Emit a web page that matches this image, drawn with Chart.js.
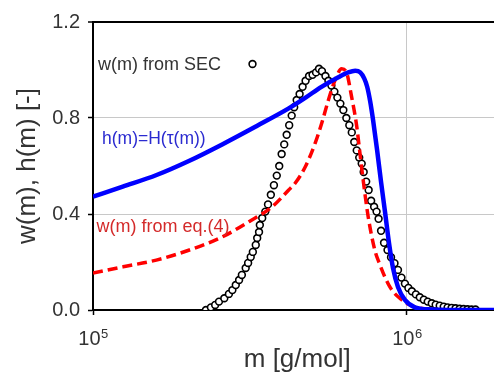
<!DOCTYPE html>
<html><head><meta charset="utf-8">
<script src="https://cdn.jsdelivr.net/npm/chart.js@4/dist/chart.umd.min.js"></script>
<style>
html,body{margin:0;padding:0;overflow:hidden;background:#fff}
#wrap{width:494px;height:373px;overflow:hidden;position:relative}
</style></head><body>
<div id="wrap"><canvas id="c" width="507" height="373"></canvas></div>
<script>
// ---- data ----
const secMass = [229000,237500,245000,252000,262000,271000,278000,285000,292000,298000,306500,312000,318000,323000,330000,333500,338000,340000,346000,354000,361000,368600,377000,385000,392000,399000,406600,414000,421700,429500,437400,445500,455200,465300,475600,487900,500500,513400,524800,536300,550200,562300,574700,587500,600500,613800,627400,641300,655400,667400,679600,692100,704800,717800,728300,741800,755300,769200,786200,800600,812400,827300,845600,867500,890000,913000,936600,960700,985500,1011000,1037000,1068000,1099000,1132000,1165000,1200000,1235000,1272000,1310000,1348000,1388000,1429000,1472000,1515000,1560000,1606000,1654000];
const secW = [0.000,0.011,0.021,0.035,0.049,0.067,0.083,0.104,0.125,0.146,0.175,0.196,0.221,0.242,0.271,0.300,0.325,0.354,0.383,0.41,0.44,0.48,0.52,0.56,0.60,0.65,0.69,0.73,0.77,0.81,0.845,0.875,0.90,0.93,0.955,0.975,0.98,0.99,1.005,0.995,0.975,0.955,0.935,0.91,0.885,0.86,0.833,0.80,0.77,0.74,0.70,0.665,0.635,0.61,0.575,0.535,0.50,0.455,0.43,0.41,0.38,0.33,0.28,0.25,0.22,0.195,0.167,0.135,0.11,0.092,0.078,0.065,0.053,0.043,0.035,0.028,0.022,0.018,0.014,0.011,0.009,0.007,0.005,0.004,0.003,0.002,0.002];

const hMass = [100000,124400,159400,202800,257900,330400,420200,475600,534400,604800,650500,684600,710100,731100,747200,763600,780500,803500,827300,851800,877000,903100,936600,985500,1060000,1165000,1450000,2000000];
const hVal  = [0.472,0.514,0.5625,0.622,0.69,0.765,0.84,0.885,0.93,0.97,0.99,0.997,0.99,0.965,0.93,0.87,0.79,0.667,0.533,0.408,0.279,0.175,0.096,0.042,0.011,0.003,0.0,0.0];

const eqMass = [100000,124700,159100,202800,258500,314000,372100,420200,441000,474600,510500,535600,562300,590500,619600,642600,666400,691300,708500,725800,752700,790100,819600,850000,883500,913900,957200,1007000,1107000,1348000,2000000];
const eqVal  = [0.154,0.18,0.208,0.25,0.305,0.368,0.43,0.50,0.529,0.597,0.696,0.779,0.875,0.958,1.005,0.988,0.889,0.77,0.654,0.54,0.389,0.25,0.19,0.139,0.095,0.069,0.045,0.025,0.007,0.0,0.0];

const xTicks = [100000, 1000000];
const xTickBase = ['10', '10'];
const xTickExp = ['5', '6'];
const yTicks = [0, 0.4, 0.8, 1.2];
const seriesNames = ['w(m) from SEC', 'h(m)=H(\u03c4(m))', 'w(m) from eq.(4)'];
const xTitle = 'm [g/mol]';
const yTitle = 'w(m), h(m) [-]';

// ---- chart ----
const toXY = (xs, ys) => xs.map((x, i) => ({x: x, y: ys[i]}));
const FONT = '"Liberation Sans", Arial, sans-serif';

const annot = {
  id: 'annot',
  afterDraw(chart) {
    const ctx = chart.ctx, a = chart.chartArea, xs = chart.scales.x;
    ctx.save();
    // x tick labels with superscript exponent
    ctx.fillStyle = '#333333';
    ctx.textBaseline = 'alphabetic';
    ctx.textAlign = 'left';
    xTicks.forEach((v, i) => {
      const px = xs.getPixelForValue(v);
      ctx.font = '20px ' + FONT;
      const wb = ctx.measureText(xTickBase[i]).width;
      ctx.font = '13px ' + FONT;
      const we = ctx.measureText(xTickExp[i]).width;
      const left = px - (wb + we) / 2;
      ctx.font = '20px ' + FONT;
      ctx.fillText(xTickBase[i], left, a.bottom + 35);
      ctx.font = '13px ' + FONT;
      ctx.fillText(xTickExp[i], left + wb + 0.5, a.bottom + 28);
    });
    // series annotations
    ctx.font = '18px ' + FONT;
    ctx.fillStyle = '#333333';
    ctx.fillText(seriesNames[0], a.left + 5, 69.5);
    ctx.fillStyle = '#2b2bd0';
    ctx.font = '17.5px ' + FONT;
    ctx.fillText(seriesNames[1], a.left + 9, 144);
    ctx.fillStyle = '#d42a2a';
    ctx.font = '18px ' + FONT;
    ctx.fillText(seriesNames[2], a.left + 3.5, 231.5);
    // legend sample marker
    ctx.beginPath();
    ctx.arc(252.5, 64, 3.4, 0, Math.PI * 2);
    ctx.fillStyle = '#fff';
    ctx.fill();
    ctx.lineWidth = 1.6;
    ctx.strokeStyle = '#000';
    ctx.stroke();
    ctx.restore();
  }
};

new Chart(document.getElementById('c'), {
  type: 'scatter',
  data: {
    datasets: [
      {
        label: seriesNames[0], data: toXY(secMass, secW), showLine: false,
        pointRadius: 3.4, pointBorderWidth: 1.6, pointBorderColor: '#000',
        pointBackgroundColor: '#fff', order: 3
      },
      {
        label: seriesNames[2], data: toXY(eqMass, eqVal), showLine: true,
        borderColor: '#ff0000', borderWidth: 3.5, borderDash: [10, 5],
        pointRadius: 0, cubicInterpolationMode: 'monotone', order: 2
      },
      {
        label: seriesNames[1], data: toXY(hMass, hVal), showLine: true,
        borderColor: '#0000ff', borderWidth: 4.5,
        pointRadius: 0, cubicInterpolationMode: 'monotone', order: 1
      }
    ]
  },
  options: {
    responsive: false, animation: false, devicePixelRatio: 1,
    layout: {padding: {top: 22, right: 0, left: 0, bottom: 0}},
    plugins: {legend: {display: false}, tooltip: {enabled: false}},
    scales: {
      x: {
        type: 'logarithmic', min: 100000, max: 2000000,
        afterBuildTicks: s => { s.ticks = xTicks.map(v => ({value: v})); },
        afterFit: s => { s.height = 63; },
        ticks: {display: false, autoSkip: false, maxRotation: 0},
        grid: {color: '#c8c8c8', lineWidth: 1, tickColor: '#000', tickLength: 5, tickWidth: 1.5},
        border: {color: '#000', width: 2},
        title: {display: true, text: xTitle, color: '#333', font: {family: FONT, size: 26, lineHeight: 1}, padding: 0}
      },
      y: {
        min: 0, max: 1.2,
        afterBuildTicks: s => { s.ticks = yTicks.map(v => ({value: v})); },
        afterFit: s => { s.width = 93; },
        ticks: {
          padding: 8, color: '#333', font: {family: FONT, size: 20},
          callback: v => Number(v).toFixed(1)
        },
        grid: {
          color: c => (c.tick && c.tick.value === 1.2) ? '#000' : '#c8c8c8',
          lineWidth: c => (c.tick && c.tick.value === 1.2) ? 2 : 1,
          tickColor: '#000', tickLength: 5, tickWidth: 1.5
        },
        border: {color: '#000', width: 2},
        title: {display: true, text: yTitle, color: '#333', font: {family: FONT, size: 26, lineHeight: 1}, padding: {top: 15, bottom: 0}}
      }
    }
  },
  plugins: [annot]
});
</script>
</body></html>
